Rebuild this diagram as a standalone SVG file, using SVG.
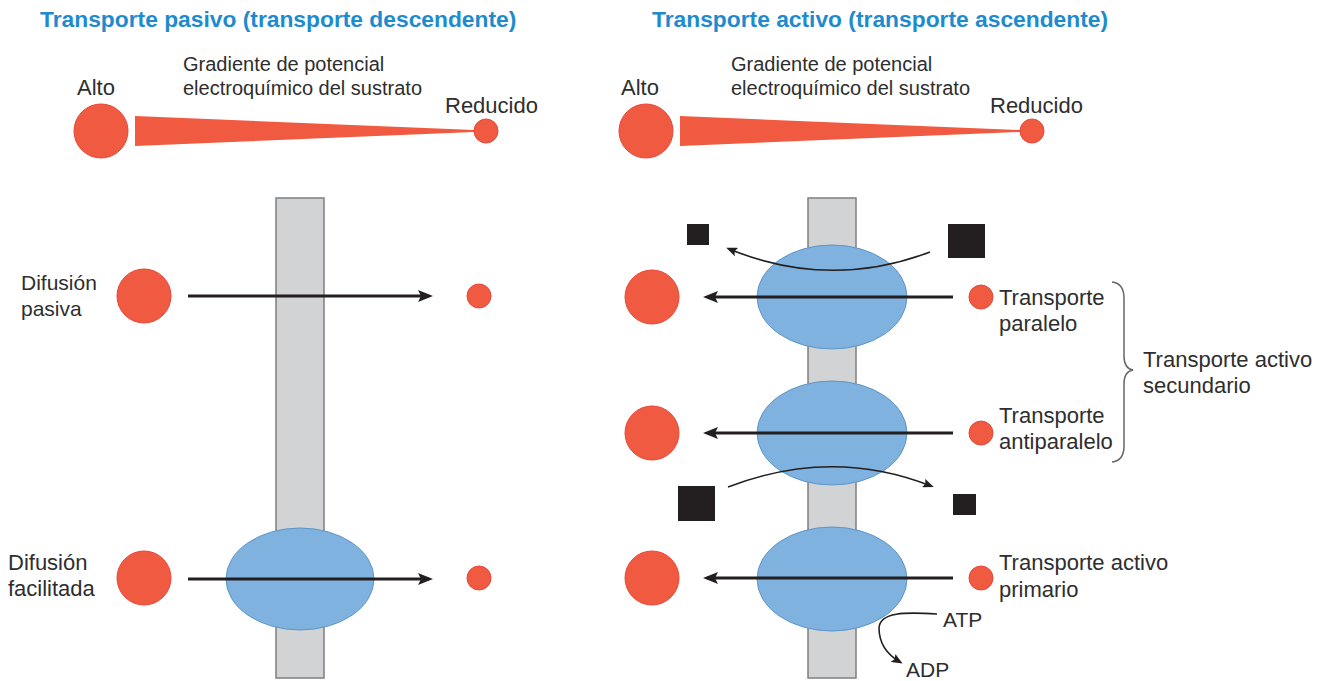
<svg xmlns="http://www.w3.org/2000/svg" width="1324" height="681" viewBox="0 0 1324 681">
<style>
.t{font-family:"Liberation Sans",Arial,sans-serif;font-size:22px;fill:#2e2e2e}
.s{font-family:"Liberation Sans",Arial,sans-serif;font-size:21px;fill:#2e2e2e}
.g{font-family:"Liberation Sans",Arial,sans-serif;font-size:20px;fill:#2e2e2e}
.h{font-family:"Liberation Sans",Arial,sans-serif;font-size:22.8px;font-weight:bold;fill:#1e8bcf}
.red{fill:#f05a40;stroke:#e8463a;stroke-width:1}
.mem{fill:#d1d3d4;stroke:#7f7f7f;stroke-width:1.5}
.prot{fill:#7fb2de;stroke:#5f95c8;stroke-width:1}
.sq{fill:#231f20}
.arr{fill:none;stroke:#231f20;stroke-width:3;marker-end:url(#ah)}
.carr{fill:none;stroke:#231f20;stroke-width:1.6;marker-end:url(#ahs)}
.br{fill:none;stroke:#666;stroke-width:1.5}
</style>
<defs>
<marker id="ah" markerUnits="userSpaceOnUse" markerWidth="15" markerHeight="12" viewBox="0 0 15 12" refX="11" refY="6" orient="auto">
<path d="M0,0 L15,6 L0,12 L3,6 z" fill="#231f20"/>
</marker>
<marker id="ahs" markerUnits="userSpaceOnUse" markerWidth="11" markerHeight="9" viewBox="0 0 11 9" refX="8" refY="4.5" orient="auto">
<path d="M0,0 L11,4.5 L0,9 L2,4.5 z" fill="#231f20"/>
</marker>
</defs>

<g id="titles">
<text class="h" x="40" y="27">Transporte pasivo (transporte descendente)</text>
<text class="h" x="652" y="27">Transporte activo (transporte ascendente)</text>
</g>

<g id="gradient-left">
<text class="t" x="77" y="95">Alto</text>
<text class="g" x="183" y="71">Gradiente de potencial</text>
<text class="g" x="183" y="95">electroquímico del sustrato</text>
<text class="t" x="445" y="113">Reducido</text>
<circle class="red" cx="101" cy="131" r="27"/>
<polygon points="135,116 135,146 474,132 474,130" fill="#f05a40"/>
<circle class="red" cx="486" cy="131" r="12"/>
</g>

<g id="gradient-right">
<text class="t" x="621" y="95">Alto</text>
<text class="g" x="731" y="71">Gradiente de potencial</text>
<text class="g" x="731" y="95">electroquímico del sustrato</text>
<text class="t" x="990" y="113">Reducido</text>
<circle class="red" cx="646" cy="131" r="27"/>
<polygon points="680,116 680,146 1020,132 1020,130" fill="#f05a40"/>
<circle class="red" cx="1032" cy="131" r="12"/>
</g>

<g id="membrane-left"><rect class="mem" x="276" y="198" width="48" height="480"/></g>
<g id="membrane-right"><rect class="mem" x="808" y="198" width="48" height="480"/></g>

<g id="carrier-left"><ellipse class="prot" cx="300" cy="579" rx="74" ry="51"/></g>
<g id="carrier-parallel"><ellipse class="prot" cx="832" cy="297" rx="75" ry="52"/></g>
<g id="carrier-antiparallel"><ellipse class="prot" cx="832" cy="433" rx="75" ry="52"/></g>
<g id="carrier-primary"><ellipse class="prot" cx="832" cy="579" rx="75" ry="52"/></g>

<g id="passive-diffusion">
<text class="s" x="21" y="290">Difusión</text>
<text class="s" x="21" y="316">pasiva</text>
<circle class="red" cx="144" cy="296" r="27"/>
<circle class="red" cx="479" cy="296" r="12"/>
</g>

<g id="facilitated-diffusion">
<text class="t" x="8" y="570">Difusión</text>
<text class="t" x="8" y="596">facilitada</text>
<circle class="red" cx="144" cy="578" r="27"/>
<circle class="red" cx="479" cy="578" r="12"/>
</g>

<g id="parallel-transport">
<circle class="red" cx="652" cy="297" r="27"/>
<circle class="red" cx="981" cy="297" r="12"/>
<rect class="sq" x="687" y="224" width="22" height="21"/>
<rect class="sq" x="948" y="224" width="37" height="34"/>
<text class="t" x="999" y="305">Transporte</text>
<text class="t" x="999" y="331">paralelo</text>
</g>

<g id="antiparallel-transport">
<circle class="red" cx="652" cy="433" r="27"/>
<circle class="red" cx="981" cy="433" r="12"/>
<rect class="sq" x="678" y="486" width="37" height="35"/>
<rect class="sq" x="953" y="494" width="23" height="21"/>
<text class="t" x="999" y="423">Transporte</text>
<text class="t" x="999" y="449">antiparalelo</text>
</g>

<g id="primary-transport">
<circle class="red" cx="652" cy="578" r="27"/>
<circle class="red" cx="981" cy="578" r="12"/>
<text class="t" x="999" y="570">Transporte activo</text>
<text class="t" x="999" y="597">primario</text>
<text class="s" x="943" y="627">ATP</text>
<text class="s" x="906" y="677">ADP</text>
</g>

<g id="secondary-label">
<path class="br" d="M1112,282 C1121,283 1124,289 1124,298 L1124,356 C1124,365 1127,369 1133,370 C1127,371 1124,375 1124,384 L1124,446 C1124,455 1121,461 1112,462"/>
<text class="t" x="1143" y="367">Transporte activo</text>
<text class="t" x="1143" y="393">secundario</text>
</g>

<g id="connectors">
<path class="arr" d="M188,296 L429,296"/>
<path class="arr" d="M188,579 L429,579"/>
<path class="arr" d="M953,297 L707,297"/>
<path class="arr" d="M953,433 L707,433"/>
<path class="arr" d="M953,578 L707,578"/>
<path class="carr" d="M930,252 Q830,290 729,249"/>
<path class="carr" d="M728,487 Q832,447 931,486"/>
<path class="carr" d="M937,614 C905,612 880,612 879,628 C879,645 888,655 900,662"/>
</g>
</svg>
